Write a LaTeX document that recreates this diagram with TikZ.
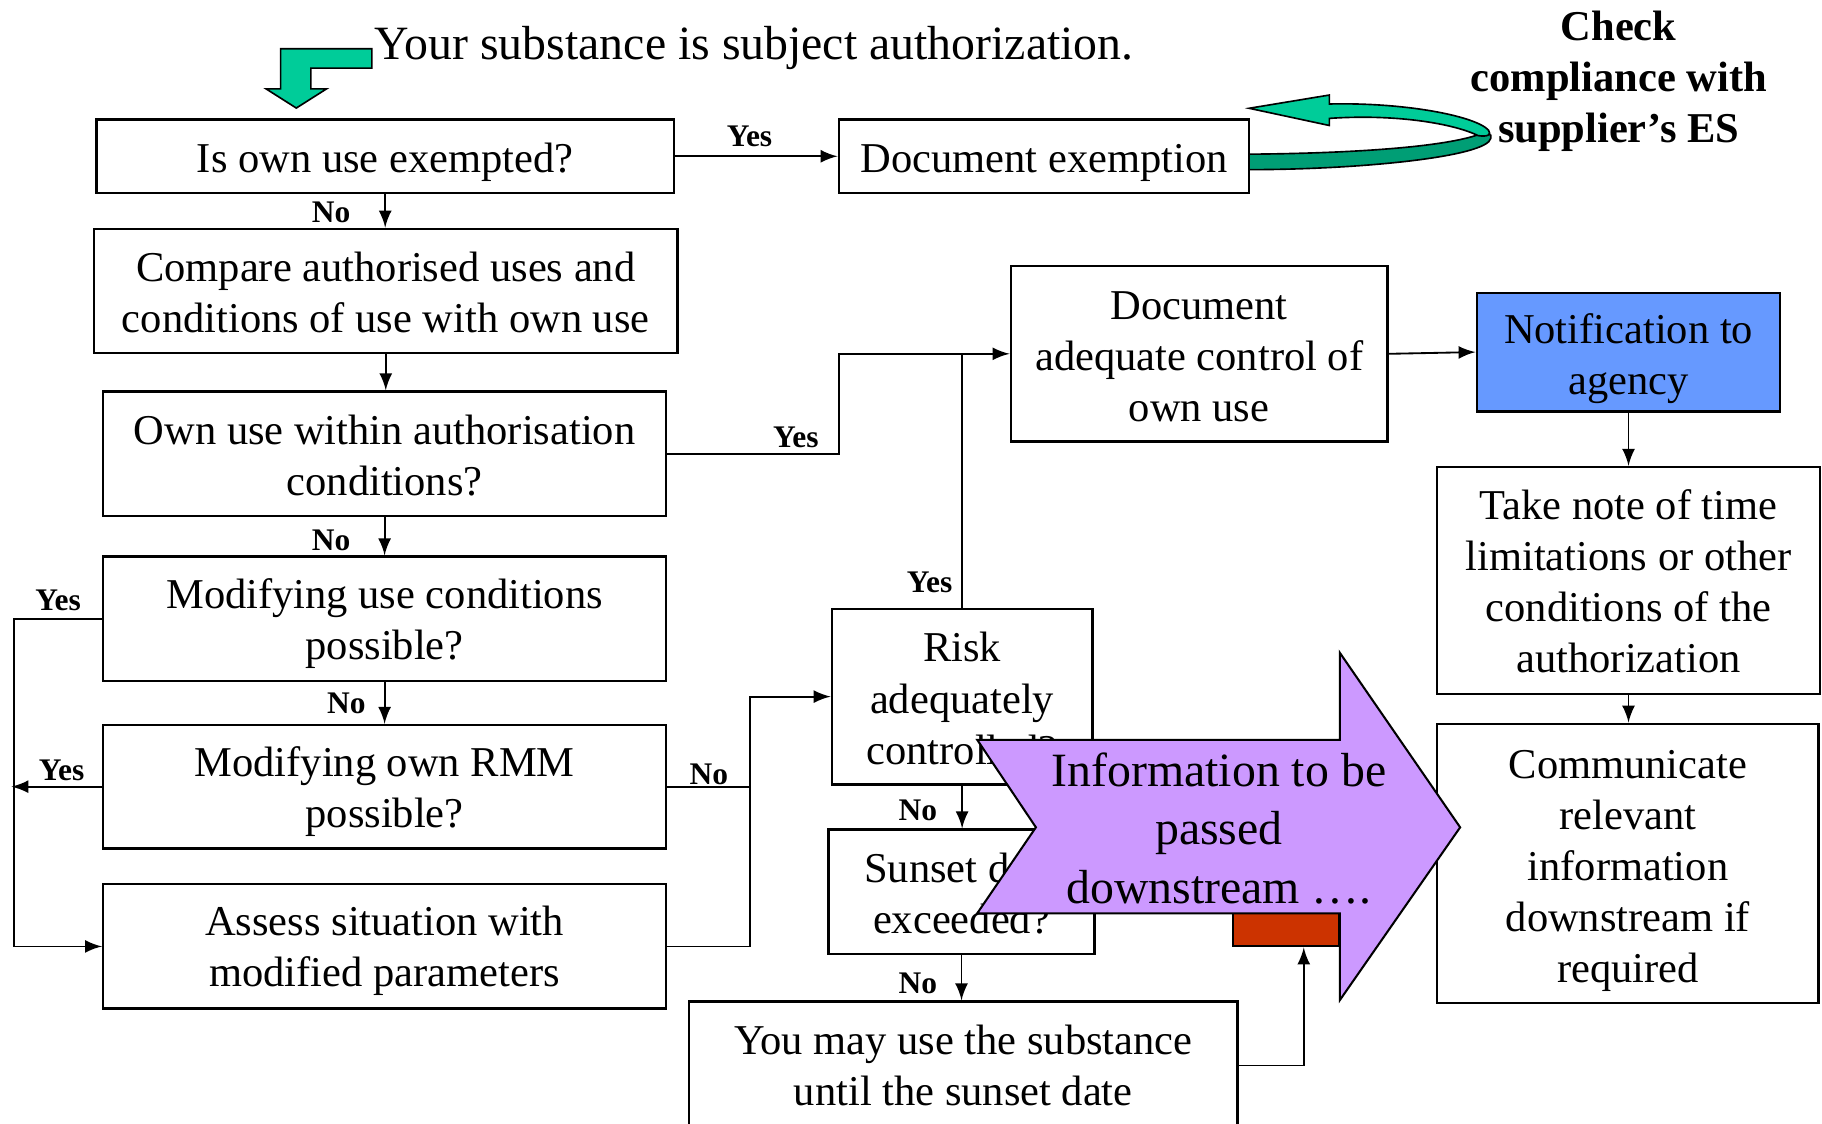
\documentclass[tikz,border=0pt]{standalone}
\usepackage{fontspec}
\setmainfont{Liberation Serif}
\usepackage{xcolor}
\usetikzlibrary{arrows}
\usetikzlibrary{calc}

\definecolor{arrowgreen}{HTML}{00CC99}
\definecolor{ribbondark}{HTML}{009E75}
\definecolor{notifblue}{HTML}{6699FF}
\definecolor{infolilac}{HTML}{CC99FF}
\definecolor{tabred}{HTML}{CC3300}

\begin{document}
\begin{tikzpicture}[x=0.01cm,y=-0.01cm,
    box/.style={draw,line width=0.6pt,align=center,inner sep=1pt,font=\fontsize{10.4}{12.5}\selectfont,
      execute at begin node={\rule{0pt}{#1}}},
    box/.default=0pt,
    lbl/.style={inner sep=0pt,font=\bfseries\fontsize{7.7}{9}\selectfont},
    conn/.style={line width=0.45pt}]
      \useasboundingbox (0,0) rectangle (1568,967);
      \clip (0,0) rectangle (1568,967);

      \filldraw[fill=arrowgreen,line width=0.4pt] (320,42) -- (241.5,42) -- (241.5,76.5) -- (229,76.5) -- (255,93)
        -- (281,76.5) -- (267.5,76.5) -- (267.5,58.6) -- (320,58.6) -- cycle;
      \node[anchor=base west,inner sep=0pt,font=\fontsize{11.7}{14}\selectfont] (title) at (322,51) {Your substance is subject authorization.};

      \node[box=10.3pt,minimum width=4.97cm,minimum height=0.63cm] (exempt) at (331.5,134.5) {Is own use exempted?};
      \node[box=10.3pt,minimum width=3.53cm,minimum height=0.63cm] (docex) at (898.5,134.5) {Document exemption};
      \node[box=20.2pt,minimum width=5.02cm,minimum height=1.07cm] (compare) at (332,250.5) {Compare authorised uses and\\conditions of use with own use};
      \node[box=20.7pt,minimum width=4.84cm,minimum height=1.07cm] (within) at (331,390.5) {Own use within authorisation\\conditions?};
      \node[box=22.4pt,minimum width=4.84cm,minimum height=1.07cm] (modcond) at (331,532.5) {Modifying use conditions\\possible?};
      \node[box=22.4pt,minimum width=4.84cm,minimum height=1.06cm] (modrmm) at (331,677) {Modifying own RMM\\possible?};
      \node[box=21.9pt,minimum width=4.84cm,minimum height=1.07cm] (assess) at (331,814.5) {Assess situation with\\modified parameters};

      \node[box=33.2pt,minimum width=3.24cm,minimum height=1.51cm] (control) at (1032,304.5) {Document\\adequate control of\\own use};
      \node[box=23pt,fill=notifblue,minimum width=2.61cm,minimum height=1.02cm] (notif) at (1401.5,303) {Notification to\\agency};
      \node[box=45.2pt,minimum width=3.29cm,minimum height=1.95cm] (timenote) at (1401.5,499.5) {Take note of time\\limitations or other\\conditions of the\\authorization};
      \node[box=60.5pt,minimum width=3.28cm,minimum height=2.40cm] (communicate) at (1401,743) {Communicate\\relevant\\information\\downstream if\\required};

      \node[box=33.2pt,minimum width=2.24cm,minimum height=1.51cm] (risk) at (828,599.5) {Risk\\adequately\\controlled?};
      \node[box=20.7pt,minimum width=2.29cm,minimum height=1.07cm] (sunset) at (827.5,767.5) {Sunset date\\exceeded?};
      \node[box,minimum width=4.72cm,minimum height=1.10cm] (mayuse) at (829,917) {You may use the substance\\until the sunset date};

      \node[draw,fill=tabred,line width=0.5pt,minimum width=0.915cm,minimum height=0.5cm,inner sep=0pt] (tab) at (1107,789.5) {};
      \coordinate (tabfoot) at ([xshift=0.15cm]tab.south);

      \draw[conn,-latex] (exempt) -- (docex);
      \draw[conn,-latex] (exempt.south) -- (exempt.south |- compare.north);
      \draw[conn,-latex] (compare.south) -- (compare.south |- within.north);
      \draw[conn,-latex] (within.south) -- (within.south |- modcond.north);
      \draw[conn,-latex] (modcond.south) -- (modcond.south |- modrmm.north);
      \draw[conn,-latex] (within.east) -- ++(148,0) |- (control.west);
      \draw[conn] (risk.north) -- (risk.north |- control.west);
      \draw[conn,-latex] (control.east) -- (notif.west);
      \draw[conn,-latex] (notif.south) -- (notif.south |- timenote.north);
      \draw[conn,-latex] (timenote.south) -- (timenote.south |- communicate.north);
      \draw[conn,-latex] (modcond.west) -- ++(-76,0) |- (assess.west);
      \draw[conn,-latex] (modrmm.west) -- ++(-78,0);
      \draw[conn] (modrmm.east) -- ++(71,0);
      \draw[conn,-latex] (assess.east) -- ++(71,0) |- (risk.west);
      \draw[conn,-latex] (risk.south) -- (risk.south |- sunset.north);
      \draw[conn,-latex] (sunset.south) -- (sunset.south |- mayuse.north);
      \draw[conn,-latex] (mayuse.east) -| (tabfoot);

      \node[lbl] (yesdoc) at (645,117) {Yes};
      \node[lbl] (noexempt) at (285,183) {No};
      \node[lbl] (yescontrol) at (685,376) {Yes};
      \node[lbl] (nowithin) at (285,465) {No};
      \node[lbl] (yesmodcond) at (50,517) {Yes};
      \node[lbl] (nomodcond) at (298,605) {No};
      \node[lbl] (yesmodrmm) at (53,663) {Yes};
      \node[lbl] (nomodrmm) at (610,666) {No};
      \node[lbl] (yesrisk) at (800,501) {Yes};
      \node[lbl] (norisk) at (790,697) {No};
      \node[lbl] (nosunset) at (790,846) {No};

      \filldraw[fill=infolilac,line width=0.5pt] (841,636.7) -- (1153,636.7) -- (1153,561.7) -- (1256.6,712)
        -- (1153,860.8) -- (1153,786) -- (841,786) -- (891.5,712) -- cycle;
      \node[align=center,inner sep=0pt,font=\fontsize{11.7}{14.2}\selectfont] (info) at (1049,713) {Information to be\\passed\\downstream ….};

      \filldraw[fill=ribbondark,line width=0.4pt] (1075,132.7) .. controls (1160,132) and (1240,127) .. (1272,116)
        .. controls (1278,113) and (1285,115) .. (1283,119) .. controls (1280,135) and (1170,146) .. (1075,146) -- cycle;
      \filldraw[fill=arrowgreen,line width=0.4pt] (1272,116.7) .. controls (1250,106) and (1200,98) .. (1144,101.9)
        -- (1144,108) -- (1075,93.2) -- (1144,81.8) -- (1144,89.5) .. controls (1210,88) and (1270,100) .. (1281,112)
        .. controls (1284,116) and (1280,118) .. (1272,116.7) -- cycle;
      \node[align=center,inner sep=0pt,font=\bfseries\fontsize{10.4}{12.5}\selectfont] (check) at (1393,70) {Check\\compliance with\\supplier’s ES};
    \end{tikzpicture}
\end{document}
